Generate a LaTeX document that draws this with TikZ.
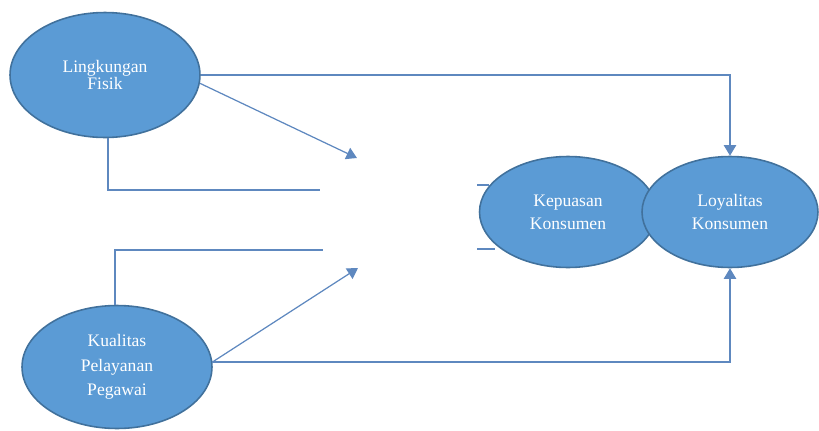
\documentclass[tikz,border=0pt]{standalone}
\usepackage{fontspec}
\setmainfont{Liberation Serif}
\usetikzlibrary{positioning,arrows.meta,shapes.geometric}

\definecolor{ovalfill}{HTML}{5B9BD5}
\definecolor{ovaledge}{HTML}{41719C}
\definecolor{linkcol}{HTML}{5E88BF}

\begin{document}
\begin{tikzpicture}[
        x=0.02cm, y=-0.02cm,
        oval/.style={
            ellipse,
            draw=ovaledge,
            fill=ovalfill,
            line width=0.9pt,
            text=white,
            align=center,
            inner sep=0pt
        },
        link/.style={
            draw=linkcol,
            line width=0.7pt
        },
        arrow/.style={
            link,
            -{Triangle[width=7pt,length=6pt]},
            >=stealth
        }
    ]
    \useasboundingbox (0,0) rectangle (819,430);

    % Independent variables
    \node[oval, minimum width=3.8cm, minimum height=2.5cm,
          font=\fontsize{10}{9}\selectfont] (fisik) at (105,75) {Lingkungan\\Fisik};
    \node[oval, minimum width=3.8cm, minimum height=2.46cm,
          font=\fontsize{10}{14}\selectfont] (pelayanan) at (117,367) {Kualitas\\Pelayanan\\Pegawai};

    % Stubs on the left of the mediator
    \coordinate (stubA) at (477,185);
    \coordinate (stubB) at (477,249);

    % Mediator and dependent variable
    \node[oval, minimum width=3.54cm, minimum height=2.22cm,
          font=\fontsize{10}{13}\selectfont] (kepuasan) at (568,212) {Kepuasan\\Konsumen};
    \draw[link] (stubA) -- (stubA -| kepuasan.162);
    \draw[link] (stubB) -- (stubB -| kepuasan.204);
    \node[oval, minimum width=3.52cm, minimum height=2.22cm,
          font=\fontsize{10}{13}\selectfont] (loyalitas) at (730,212) {Loyalitas\\Konsumen};

    % Free ends
    \coordinate (tipA) at (357,158);
    \coordinate (tipB) at (358,268);
    \coordinate (endA) at (320,190);
    \coordinate (endB) at (323,250);

    % Connections from Lingkungan Fisik
    \draw[arrow] (fisik.east) -| (loyalitas.north);
    \draw[arrow] (fisik.-5) -- (tipA);
    \draw[link] ([xshift=0.06cm]fisik.south) |- (endA);

    % Connections from Kualitas Pelayanan Pegawai
    \draw[link] ([xshift=-0.04cm]pelayanan.north) |- (endB);
    \draw[arrow] (pelayanan.3) -- (tipB);
    \draw[arrow] (pelayanan.3) -| (loyalitas.south);

\end{tikzpicture}
\end{document}
